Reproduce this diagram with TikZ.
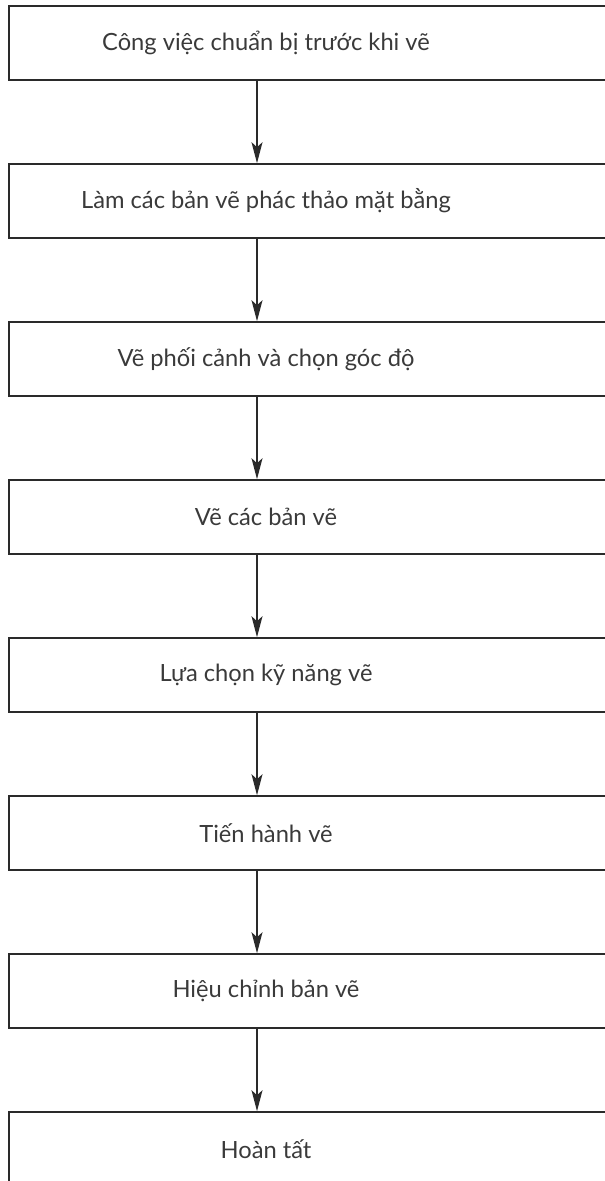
\documentclass[tikz,border=0pt]{standalone}
\usepackage{fontspec}
\setmainfont{Lato}
\usetikzlibrary{arrows.meta}
\definecolor{ink}{HTML}{2A2A2A}
\definecolor{textink}{HTML}{3A3A3A}
\tikzset{
  stepbox/.style={draw=ink, line width=1.6pt, minimum width=631pt, minimum height=74pt, inner sep=0pt},
  steptext/.style={text=textink, font=\fontsize{23.7}{27}\selectfont, inner sep=0pt},
  flow/.style={draw=ink, line width=1.6pt, -{Stealth[length=21pt,width=11pt,inset=5pt]}}
}
\begin{document}
\begin{tikzpicture}[x=1pt,y=-1pt]
\useasboundingbox (0,0) rectangle (605,1181);
\clip (0,0) rectangle (605,1181);
\foreach \i/\t in {1/{Công việc chuẩn bị trước khi vẽ},
                   2/{Làm các bản vẽ phác thảo mặt bằng},
                   3/{Vẽ phối cảnh và chọn góc độ},
                   4/{Vẽ các bản vẽ},
                   5/{Lựa chọn kỹ năng vẽ},
                   6/{Tiến hành vẽ},
                   7/{Hiệu chỉnh bản vẽ},
                   8/{Hoàn tất}}{
  \node[stepbox] (b\i) at (324.5,{43+158*(\i-1)}) {};
  \node[steptext] (t\i) at (266,{43+158*(\i-1)}) {\t};
}
\coordinate (ax) at (257,0);
\foreach \i [evaluate=\i as \j using int(\i+1)] in {1,...,7}{
  \draw[flow] (b\i.south -| ax) -- (b\j.north -| ax);
}
\end{tikzpicture}
\end{document}
